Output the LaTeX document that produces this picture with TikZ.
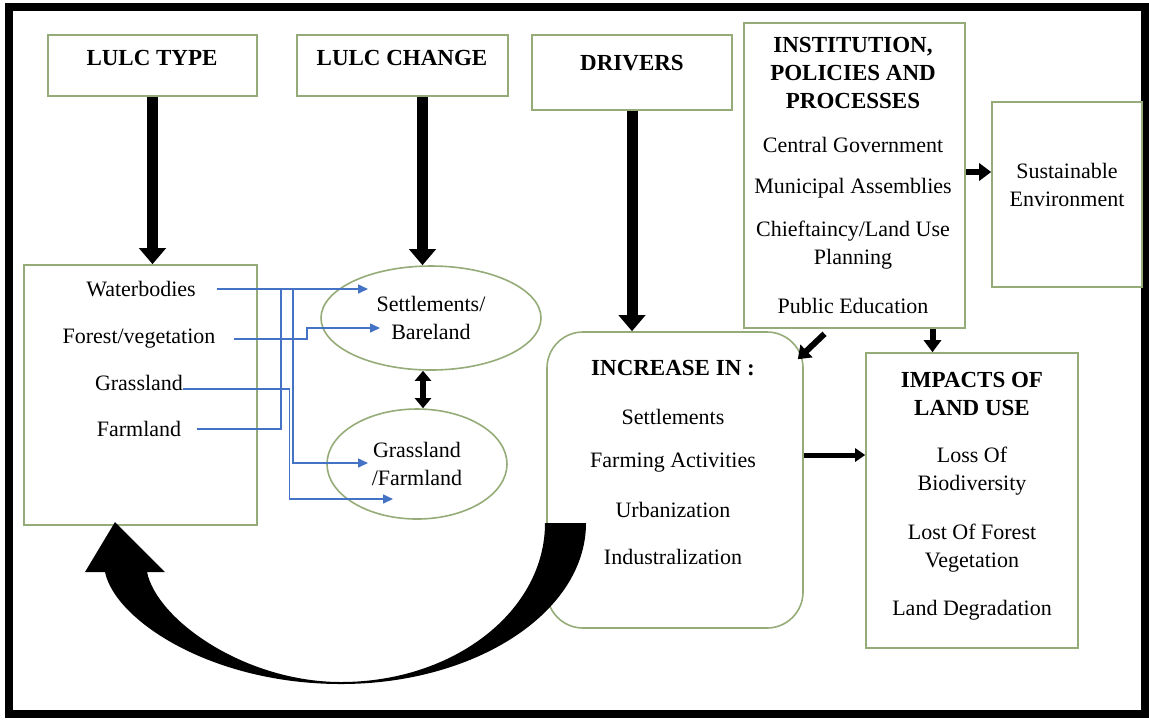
\documentclass[tikz,border=0pt]{standalone}
\usepackage{fontspec}
\setmainfont{Liberation Serif}
\usepackage{tikz}
\usetikzlibrary{arrows.meta}
\usetikzlibrary{shapes.geometric}
\usetikzlibrary{calc}

\definecolor{boxgreen}{RGB}{150,172,120}
\definecolor{linkblue}{RGB}{68,114,196}

\begin{document}
\begin{tikzpicture}[x=0.5pt,y=-0.5pt,font=\fontsize{11}{14}\selectfont]
 \tikzstyle{greenbox}=[draw=boxgreen, line width=0.8pt, fill=white, inner sep=0pt]
 \tikzstyle{greenell}=[greenbox, ellipse, align=center]
 \tikzstyle{txt}=[inner sep=0pt, align=center]
 \tikzstyle{head}=[txt, font=\fontsize{11.5}{14}\selectfont\bfseries]
 \tikzstyle{bigarrow}=[line width=5.5pt, -{Triangle[length=8pt,width=13pt]}]
 \tikzstyle{midarrow}=[line width=3pt, -{Triangle[length=6pt,width=8.5pt]}]
 \tikzstyle{bothway}=[line width=3pt, {Triangle[length=5pt,width=8pt]}-{Triangle[length=5pt,width=8pt]}]
 \tikzstyle{smallarrow}=[line width=2.5pt, -{Triangle[length=5pt,width=6.5pt]}]
 \tikzstyle{link}=[draw=linkblue, line width=0.75pt]
 \tikzstyle{linkarrow}=[link, -{Triangle[length=5pt,width=4.5pt]}]

 \useasboundingbox (0,0) rectangle (1149,719);
 % outer frame
 \draw[line width=4pt] (9,7) rectangle (1145,714);

 % top row
 \node[greenbox, minimum width=104.5pt, minimum height=30.5pt] (type) at (152.5,65.5) {};
 \node[head] (typelbl) at (152,58) {LULC TYPE};
 \node[greenbox, minimum width=105.5pt, minimum height=30.5pt] (change) at (402.5,65.5) {};
 \node[head] (changelbl) at (402,58) {LULC CHANGE};
 \node[greenbox, minimum width=100pt, minimum height=37.5pt] (drivers) at (632,72.5) {};
 \node[head] (driverslbl) at (632,63) {DRIVERS};

 % institutions
 \node[greenbox, minimum width=110.5pt, minimum height=152.5pt] (inst) at (854.5,175.5) {};
 \node[head] (insthead) at (853,73) {INSTITUTION,\\POLICIES AND\\PROCESSES};
 \node[txt] (gov) at (853,145) {Central Government};
 \node[txt] (assembly) at (853,188) {Municipal Assemblies};
 \node[txt] (chief) at (853,245) {Chieftaincy/Land Use\\Planning};
 \node[txt] (educ) at (853,306) {Public Education};

 \node[greenbox, minimum width=75pt, minimum height=92.5pt] (sust) at (1067,194.5) {};
 \node[txt] (sustlbl) at (1067,185) {Sustainable\\Environment};

 % land cover classes
 \node[greenbox, minimum width=116.5pt, minimum height=130pt] (list) at (140.5,395) {};
 \node[txt] (water) at (141,289) {Waterbodies};
 \node[txt] (forest) at (139,339) {Forest/vegetation};
 \node[txt] (grass) at (139,383) {Grassland};
 \node[txt] (farm) at (139,429) {Farmland};

 \node[greenell, minimum width=110pt, minimum height=52pt] (ell1) at (431,318) {Settlements/\\Bareland};
 \node[greenell, minimum width=90pt, minimum height=55pt] (ell2) at (417,464) {Grassland\\/Farmland};

 % drivers of change
 \node[greenbox, rounded corners=18pt, minimum width=128pt, minimum height=148pt] (incr) at (675,480) {};
 \node[head] (incrhead) at (673,368) {INCREASE IN :};
 \node[txt] (inc1) at (673,417) {Settlements};
 \node[txt] (inc2) at (673,463) {Farming Activities};
 \node[txt] (inc3) at (673,510) {Urbanization};
 \node[txt] (inc4) at (673,557) {Industralization};

 \node[greenbox, minimum width=106pt, minimum height=147.5pt] (impact) at (972,500.5) {};
 \node[head] (imphead) at (972,393.5) {IMPACTS OF\\LAND USE};
 \node[txt] (imp1) at (972,471) {Loss Of\\Biodiversity};
 \node[txt] (imp2) at (972,548) {Lost Of Forest\\Vegetation};
 \node[txt] (imp3) at (972,610) {Land Degradation};

 % black arrows
 \draw[bigarrow] (type) -- (type |- list.north);
 \draw[bigarrow] ([xshift=10pt]change.south) -- ([xshift=10pt]change.south |- ell1.north);
 \draw[bigarrow] (drivers) -- (drivers |- incr.north);
 \draw[bothway] ([xshift=-4pt]ell1.south) -- ([xshift=-4pt]ell1.south |- ell2.north);
 \draw[midarrow] ([yshift=1.75pt]inst.east) -- ([yshift=1.75pt]inst.east -| sust.west);
 \draw[midarrow] ([xshift=39pt]inst.south) -- ([xshift=39pt]inst.south |- impact.north);
 \draw[midarrow] ([xshift=-15pt,yshift=-2.5pt]inst.south) -- ([xshift=-3pt,yshift=-14pt]incr.north east);
 \draw[smallarrow] ([yshift=12.5pt]incr.east) -- ([yshift=12.5pt]incr.east -| impact.west);

 % blue links
 \coordinate (s1) at (368,289);
 \coordinate (s2) at (380,328);
 \coordinate (g1) at (368,463);
 \coordinate (g2) at (393,499);
 \coordinate (j1) at (293,289);
 \coordinate (j2) at (281,289);
 \draw[linkarrow] ([xshift=10.5pt]water.east) -- (s1);
 \draw[linkarrow] (j1) |- (g1);
 \draw[link] ([xshift=7.5pt]farm.east) -| (j2);
 \draw[linkarrow] ([xshift=9pt]forest.east) -- ++(36.5pt,0) |- (s2);
 \draw[linkarrow] ([yshift=-3pt]grass.east) -- ++(53pt,0) |- (g2);

 % feedback arrow back to the land cover box
 \fill (586,523) .. controls (586,612) and (476,684) .. (341,684)
   .. controls (211,684) and (115,620) .. (105,572)
   -- (85,572) -- (115,522) -- (165,572) -- (147,572)
   .. controls (157,620) and (245,682) .. (341,682)
   .. controls (454,682) and (545,611) .. (545,523) -- cycle;
\end{tikzpicture}
\end{document}
